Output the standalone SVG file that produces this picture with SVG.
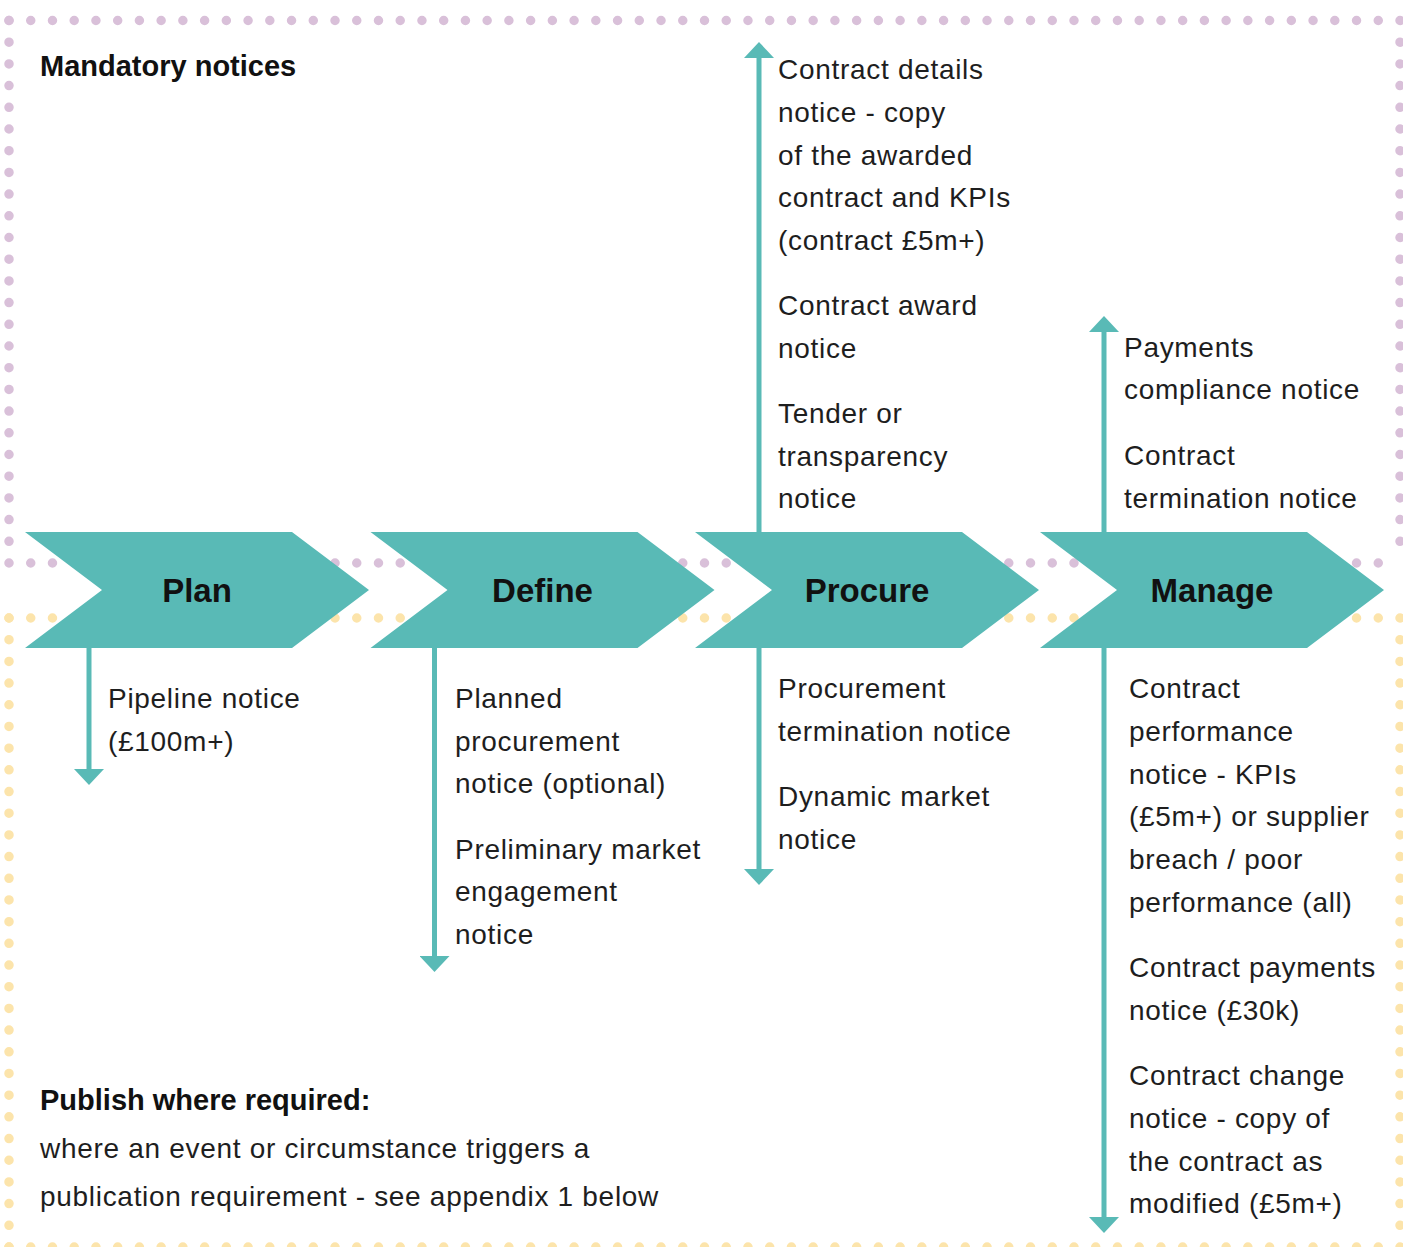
<svg xmlns="http://www.w3.org/2000/svg" width="1403" height="1247" viewBox="0 0 1403 1247">
<style>
.t{font-family:"Liberation Sans",Arial,Helvetica,sans-serif;font-size:28px;letter-spacing:0.7px;fill:#1e1e1e}
.h{font-family:"Liberation Sans",Arial,Helvetica,sans-serif;font-size:29px;font-weight:bold;fill:#111}
.c{font-family:"Liberation Sans",Arial,Helvetica,sans-serif;font-size:33px;font-weight:bold;fill:#111;text-anchor:middle}
.chev{fill:#59bab6}
.ln{stroke:#59bab6;stroke-width:5;fill:none}
.dp{fill:none;stroke:#d9c0d9;stroke-width:9.5;stroke-linecap:round;stroke-dasharray:0 1}
.dy{fill:none;stroke:#fce4ab;stroke-width:9.5;stroke-linecap:round;stroke-dasharray:0 1}
</style>
<defs>
<marker id="ah" viewBox="0 0 16 30" markerWidth="16" markerHeight="30" refX="1" refY="15" orient="auto" markerUnits="userSpaceOnUse">
<path d="M0,0 L16,15 L0,30 z" fill="#59bab6"/>
</marker>
</defs>
<rect width="1403" height="1247" fill="#ffffff"/>
<g id="frame-mandatory">
<path class="dp" d="M9,20.5 H1400" pathLength="64"/>
<path class="dp" d="M9,20.5 V563" pathLength="25"/>
<path class="dp" d="M1400,20.5 V563" pathLength="25"/>
<path class="dp" d="M9,563 H1400" pathLength="64"/>
</g>
<g id="frame-required">
<path class="dy" d="M9,618 H1400" pathLength="64"/>
<path class="dy" d="M9,618 V1247" pathLength="29"/>
<path class="dy" d="M1400,618 V1247" pathLength="29"/>
<path class="dy" d="M9,1247 H1400" pathLength="64"/>
</g>
<g id="connectors">
<path class="ln" d="M89,648 V770" marker-end="url(#ah)"/>
<path class="ln" d="M434.5,648 V957" marker-end="url(#ah)"/>
<path class="ln" d="M759,532 V57" marker-end="url(#ah)"/>
<path class="ln" d="M759,648 V870" marker-end="url(#ah)"/>
<path class="ln" d="M1104,532 V331" marker-end="url(#ah)"/>
<path class="ln" d="M1104,648 V1218" marker-end="url(#ah)"/>
</g>
<g id="plan">
<polygon class="chev" points="25,532 292,532 369,590 292,648 25,648 102,590"/>
<text class="c" x="197" y="602">Plan</text>
</g>
<g id="define">
<polygon class="chev" points="370.5,532 637.5,532 714.5,590 637.5,648 370.5,648 447.5,590"/>
<text class="c" x="542.5" y="602">Define</text>
</g>
<g id="procure">
<polygon class="chev" points="695,532 962,532 1039,590 962,648 695,648 772,590"/>
<text class="c" x="867" y="602">Procure</text>
</g>
<g id="manage">
<polygon class="chev" points="1040,532 1307,532 1384,590 1307,648 1040,648 1117,590"/>
<text class="c" x="1212" y="602">Manage</text>
</g>
<g id="title-mandatory">
<text class="h" x="40" y="76">Mandatory notices</text>
</g>
<g id="procure-mandatory-notices">
<text class="t"><tspan x="778" y="79">Contract details</tspan><tspan x="778" y="122">notice - copy</tspan><tspan x="778" y="164.5">of the awarded</tspan><tspan x="778" y="207">contract and KPIs</tspan><tspan x="778" y="250">(contract £5m+)</tspan><tspan x="778" y="315">Contract award</tspan><tspan x="778" y="358">notice</tspan><tspan x="778" y="423">Tender or</tspan><tspan x="778" y="466">transparency</tspan><tspan x="778" y="508">notice</tspan></text>
</g>
<g id="manage-mandatory-notices">
<text class="t"><tspan x="1124" y="357">Payments</tspan><tspan x="1124" y="399">compliance notice</tspan><tspan x="1124" y="465">Contract</tspan><tspan x="1124" y="508">termination notice</tspan></text>
</g>
<g id="plan-required-notices">
<text class="t"><tspan x="108" y="708">Pipeline notice</tspan><tspan x="108" y="751">(£100m+)</tspan></text>
</g>
<g id="define-required-notices">
<text class="t"><tspan x="455" y="708">Planned</tspan><tspan x="455" y="751">procurement</tspan><tspan x="455" y="793">notice (optional)</tspan><tspan x="455" y="859">Preliminary market</tspan><tspan x="455" y="901">engagement</tspan><tspan x="455" y="944">notice</tspan></text>
</g>
<g id="procure-required-notices">
<text class="t"><tspan x="778" y="698">Procurement</tspan><tspan x="778" y="741">termination notice</tspan><tspan x="778" y="806">Dynamic market</tspan><tspan x="778" y="849">notice</tspan></text>
</g>
<g id="manage-required-notices">
<text class="t"><tspan x="1129" y="698">Contract</tspan><tspan x="1129" y="741">performance</tspan><tspan x="1129" y="784">notice - KPIs</tspan><tspan x="1129" y="826">(£5m+) or supplier</tspan><tspan x="1129" y="869">breach / poor</tspan><tspan x="1129" y="912">performance (all)</tspan><tspan x="1129" y="977">Contract payments</tspan><tspan x="1129" y="1020">notice (£30k)</tspan><tspan x="1129" y="1085">Contract change</tspan><tspan x="1129" y="1128">notice - copy of</tspan><tspan x="1129" y="1171">the contract as</tspan><tspan x="1129" y="1213">modified (£5m+)</tspan></text>
</g>
<g id="title-required">
<text class="h" x="40" y="1110">Publish where required:</text>
<text class="t"><tspan x="40" y="1158">where an event or circumstance triggers a</tspan><tspan x="40" y="1206">publication requirement - see appendix 1 below</tspan></text>
</g>
</svg>
